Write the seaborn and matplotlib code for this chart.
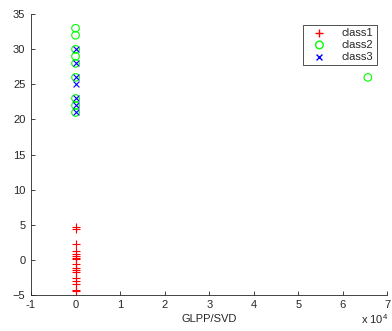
import numpy as np
import pandas as pd
import matplotlib
matplotlib.use('Agg')
import matplotlib.pyplot as plt
import seaborn as sns

# values
class1_y = [4.7, 4.4, 2.2, 1.2, 0.8, 0.5, 0.3, 0.1, -0.6, -1.1, -1.5, -1.8, -2.6, -3.0, -3.4, -4.3, -4.5]
class1_x = [0] * len(class1_y)
class2_y = [33, 32, 30, 29, 28, 26, 23, 22, 21, 26]
class2_x = [0, 0, 0, 0, 0, 0, 0, 0, 0, 65600]
class3_y = [30, 28, 26, 25, 23, 22, 21]
class3_x = [0] * len(class3_y)
colors = ['#ff0000', '#00ff00', '#0000ff']

df = pd.concat([
    pd.DataFrame({'x': class1_x, 'y': class1_y, 'cls': 'class1'}),
    pd.DataFrame({'x': class2_x, 'y': class2_y, 'cls': 'class2'}),
    pd.DataFrame({'x': class3_x, 'y': class3_y, 'cls': 'class3'}),
])

sns.set_style('ticks')
plt.rcParams['font.family'] = ['Liberation Sans', 'DejaVu Sans']
plt.rcParams['mathtext.fontset'] = 'custom'
plt.rcParams['mathtext.rm'] = 'Liberation Sans'
plt.rcParams['mathtext.it'] = 'Liberation Sans'

fig = plt.figure(figsize=(3.92, 3.31), dpi=100)
ax = fig.add_axes([0.079, 0.109, 0.9095, 0.848])

d1 = df[df.cls == 'class1']
d2 = df[df.cls == 'class2']
d3 = df[df.cls == 'class3']
sns.scatterplot(data=d1, x='x', y='y', ax=ax, marker='+', color=colors[0], edgecolor=colors[0],
                s=30, linewidth=0.8, label='class1')
sns.scatterplot(data=d2, x='x', y='y', ax=ax, marker='o', facecolor='none', edgecolor=colors[1],
                s=30, linewidth=0.8, label='class2')
sns.scatterplot(data=d3, x='x', y='y', ax=ax, marker='x', color=colors[2], edgecolor=colors[2],
                s=18, linewidth=0.8, label='class3')

ax.set_xlim(-10000, 70000)
ax.set_ylim(-5, 35)
ax.set_xticks(np.arange(-10000, 70001, 10000))
ax.set_xticklabels([str(v) for v in range(-1, 8)])
ax.set_yticks(np.arange(-5, 36, 5))
ax.set_xlabel('GLPP/SVD', fontsize=8, labelpad=3)
ax.set_ylabel('')
ax.tick_params(direction='in', labelsize=8, length=3, width=0.6)
ax.tick_params(axis='x', pad=3.5)
ax.tick_params(axis='y', pad=4)
for s in ['top', 'right']:
    ax.spines[s].set_visible(False)
for s in ['left', 'bottom']:
    ax.spines[s].set_linewidth(0.6)
fig.text(0.955, 0.036, r'x 10$^{\mathrm{4}}$', fontsize=8, ha='center', va='center')

leg = ax.legend(loc='upper right', bbox_to_anchor=(0.985, 0.982), fontsize=8, frameon=True,
                fancybox=False, edgecolor='black', handletextpad=0.8, borderpad=0.3,
                labelspacing=0.15, handlelength=2.4)
leg.get_frame().set_linewidth(0.6)
for h, c in zip(leg.legend_handles, colors):
    h.set_edgecolor(c)
    if c != colors[1]:
        h.set_facecolor(c)
    h.set_linewidth(1.0)

fig.savefig('out.png', dpi=100)
